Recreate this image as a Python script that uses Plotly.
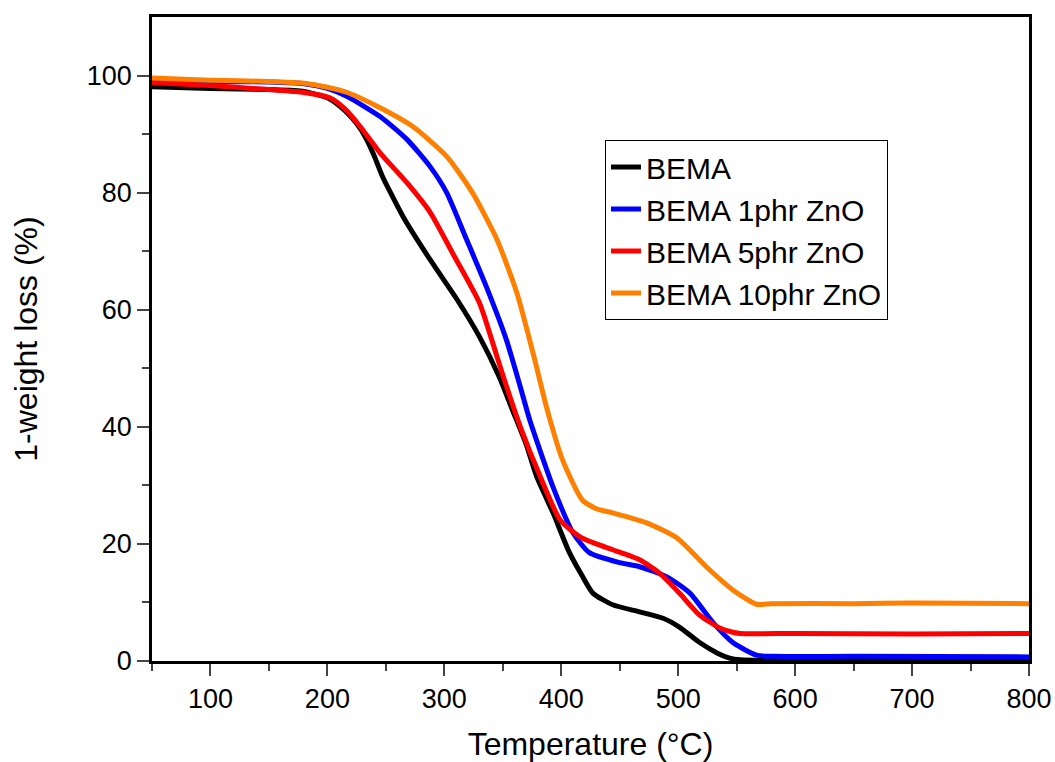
import plotly.graph_objects as go

# BEMA
t_bema = [50, 100, 150, 180, 202, 215, 225, 233, 240, 247, 255, 265, 288, 311, 330, 347, 358, 370, 379, 393, 407, 418, 427, 444, 467, 487, 501, 518, 534, 544, 553, 580, 650, 700, 800]
w_bema = [98.1, 97.8, 97.6, 97.3, 96.0, 94.0, 91.8, 89.3, 86.3, 82.8, 79.6, 75.8, 68.5, 61.7, 55.4, 48.5, 43.0, 37.0, 31.5, 25.3, 18.5, 14.5, 11.6, 9.6, 8.4, 7.3, 5.8, 3.2, 1.3, 0.5, 0.2, 0.1, 0.1, 0.1, 0.1]

# BEMA 1phr ZnO
t_1phr = [50, 100, 150, 180, 200, 217, 245, 268, 288, 302, 319, 336, 353, 365, 373, 393, 410, 424, 450, 467, 490, 510, 530, 547, 567, 581, 650, 800]
w_1phr = [99.3, 99.0, 98.9, 98.6, 97.8, 96.4, 93.0, 89.1, 84.4, 80.0, 72.0, 63.9, 54.9, 46.8, 41.2, 29.7, 21.9, 18.5, 16.8, 16.1, 14.4, 11.6, 6.5, 3.1, 1.0, 0.8, 0.8, 0.7]

# BEMA 5phr ZnO
t_5phr = [50, 100, 150, 180, 202, 215, 228, 245, 268, 288, 307, 330, 345, 353, 365, 382, 399, 416, 430, 444, 467, 484, 501, 518, 535, 545, 553, 600, 700, 800]
w_5phr = [98.8, 98.3, 97.6, 97.1, 96.2, 94.3, 91.3, 86.8, 81.7, 76.6, 69.7, 61.2, 52.0, 47.0, 40.0, 31.5, 24.1, 21.2, 20.0, 19.0, 17.3, 15.0, 11.6, 7.9, 5.7, 5.0, 4.7, 4.7, 4.6, 4.7]

# BEMA 10phr ZnO
t_10phr = [50, 100, 150, 180, 200, 217, 245, 273, 302, 324, 345, 362, 376, 388, 401, 418, 430, 444, 473, 499, 524, 547, 567, 580, 650, 700, 800]
w_10phr = [99.6, 99.2, 99.0, 98.7, 98.0, 97.1, 94.5, 91.3, 86.2, 80.0, 72.0, 62.9, 52.5, 42.9, 34.4, 27.5, 26.0, 25.3, 23.6, 21.0, 16.1, 12.1, 9.7, 9.8, 9.8, 9.9, 9.8]

x_ticks = [100, 200, 300, 400, 500, 600, 700, 800]
y_ticks = [0, 20, 40, 60, 80, 100]

series = [
    ("BEMA", t_bema, w_bema, "#000000"),
    ("BEMA 1phr ZnO", t_1phr, w_1phr, "#0000FF"),
    ("BEMA 5phr ZnO", t_5phr, w_5phr, "#FF0000"),
    ("BEMA 10phr ZnO", t_10phr, w_10phr, "#FF8000"),
]

fig = go.Figure()
for name, t, w, c in series:
    fig.add_trace(go.Scatter(x=t, y=w, mode="lines", name=name,
                             line=dict(color=c, width=5, shape="spline", smoothing=0.6)))

font_family = "Liberation Sans, Arial, sans-serif"
fig.update_layout(
    width=1055, height=762,
    margin=dict(l=152, r=26, t=17, b=101, autoexpand=False),
    paper_bgcolor="white", plot_bgcolor="white",
    font=dict(family=font_family, color="black"),
    legend=dict(x=0.5165, y=0.809, xanchor="left", yanchor="top",
                bordercolor="black", borderwidth=1, bgcolor="white",
                font=dict(size=30, family=font_family), tracegroupgap=0),
)
fig.update_xaxes(
    range=[50, 800], tickvals=x_ticks, ticks="outside", ticklen=12, tickwidth=2,
    showline=True, linecolor="black", linewidth=2.5, mirror=True, automargin=False,
    showgrid=False, zeroline=False, tickfont=dict(size=27),
    minor=dict(tickvals=[50, 150, 250, 350, 450, 550, 650, 750], ticks="outside", ticklen=7, tickwidth=2, showgrid=False),
    title=dict(text="Temperature (°C)", font=dict(size=32), standoff=20),
)
fig.update_yaxes(
    range=[0, 110], tickvals=y_ticks, ticks="outside", ticklen=12, tickwidth=2,
    showline=True, linecolor="black", linewidth=2.5, mirror=True, automargin=False,
    showgrid=False, zeroline=False, tickfont=dict(size=27),
    minor=dict(tickvals=[10, 30, 50, 70, 90], ticks="outside", ticklen=7, tickwidth=2, showgrid=False),
    title=dict(text="1-weight loss (%)", font=dict(size=32), standoff=40),
)
fig.write_html("out.html")
